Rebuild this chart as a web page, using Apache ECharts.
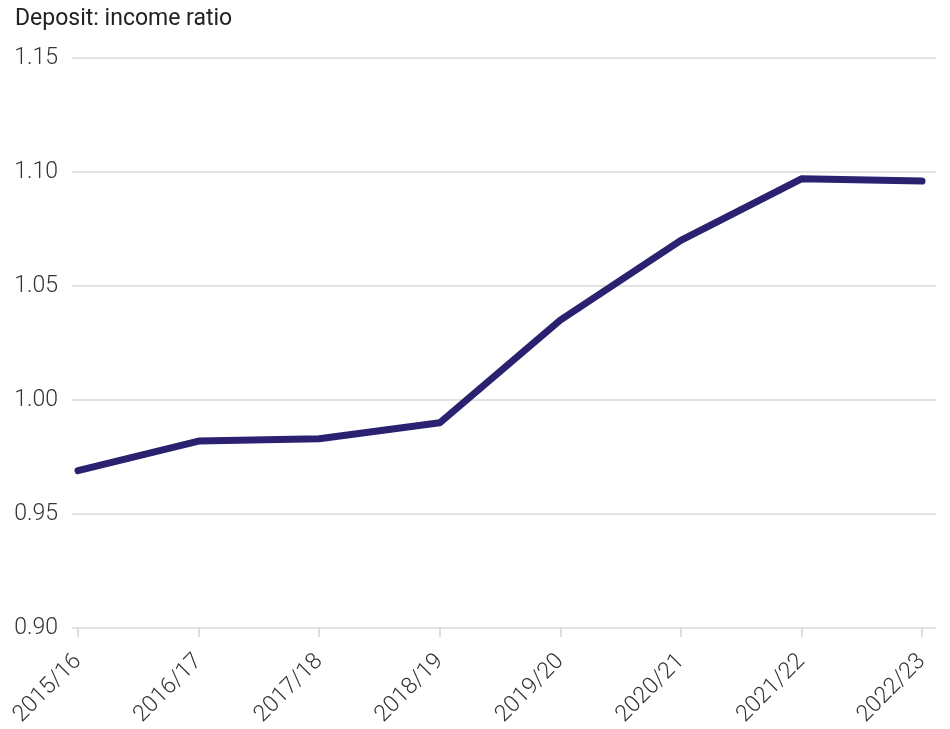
<!DOCTYPE html>
<html>
<head>
<meta charset="utf-8">
<script src="https://cdn.jsdelivr.net/npm/echarts@6/dist/echarts.min.js"></script>
<style>
  html, body { margin: 0; padding: 0; background: #fff; }
  #chart { width: 950px; height: 729px; }
</style>
</head>
<body>
<div id="chart"></div>
<script>
const years = ['2015/16', '2016/17', '2017/18', '2018/19', '2019/20', '2020/21', '2021/22', '2022/23'];
const depositIncomeRatio = [0.969, 0.982, 0.983, 0.990, 1.035, 1.070, 1.097, 1.096];
const yTicks = [0.90, 0.95, 1.00, 1.05, 1.10, 1.15];

const FONT = 'Roboto';
const yMin = yTicks[0];
const yMax = yTicks[yTicks.length - 1];
const plotTop = 58, plotBottom = 101;

const chart = echarts.init(document.getElementById('chart'), null, { renderer: 'canvas' });
chart.setOption({
  animation: false,
  backgroundColor: '#ffffff',
  title: {
    text: 'Deposit: income ratio',
    left: 10, top: 3,
    textStyle: { fontFamily: FONT, fontSize: 23, fontWeight: 'normal', color: '#222222' }
  },
  grid: [
    // wide grid carries the horizontal gridlines and y labels
    { left: 72, right: 14, top: plotTop, bottom: plotBottom, outerBoundsMode: 'none', containLabel: false },
    // inner grid holds the line and the category ticks
    { left: 78, right: 28, top: plotTop, bottom: plotBottom, outerBoundsMode: 'none', containLabel: false }
  ],
  xAxis: [
    { gridIndex: 0, type: 'value', show: false, min: 0, max: 1 },
    {
      gridIndex: 1, type: 'category', data: years, boundaryGap: false,
      axisLine: { show: false },
      axisTick: { show: true, length: 9, lineStyle: { color: '#d4d4d4', width: 1.5 } },
      axisLabel: {
        rotate: 45, margin: 30, interval: 0,
        fontFamily: FONT, fontSize: 23, fontWeight: 300, color: '#333333'
      },
      splitLine: { show: false }
    }
  ],
  yAxis: [
    {
      gridIndex: 0, type: 'value', min: yMin, max: yMax, interval: 0.05,
      axisLine: { show: false }, axisTick: { show: false },
      axisLabel: {
        margin: 14, fontFamily: FONT, fontSize: 23, fontWeight: 300, color: '#333333',
        formatter: v => v.toFixed(2)
      },
      splitLine: { show: true, lineStyle: { color: '#d9d9d9', width: 1.5 } }
    },
    {
      gridIndex: 1, type: 'value', min: yMin, max: yMax, interval: 0.05,
      show: false
    }
  ],
  series: [{
    type: 'line',
    xAxisIndex: 1, yAxisIndex: 1,
    data: depositIncomeRatio,
    symbol: 'none',
    lineStyle: { color: '#2b2171', width: 7, cap: 'round', join: 'round' }
  }]
});
</script>
</body>
</html>
